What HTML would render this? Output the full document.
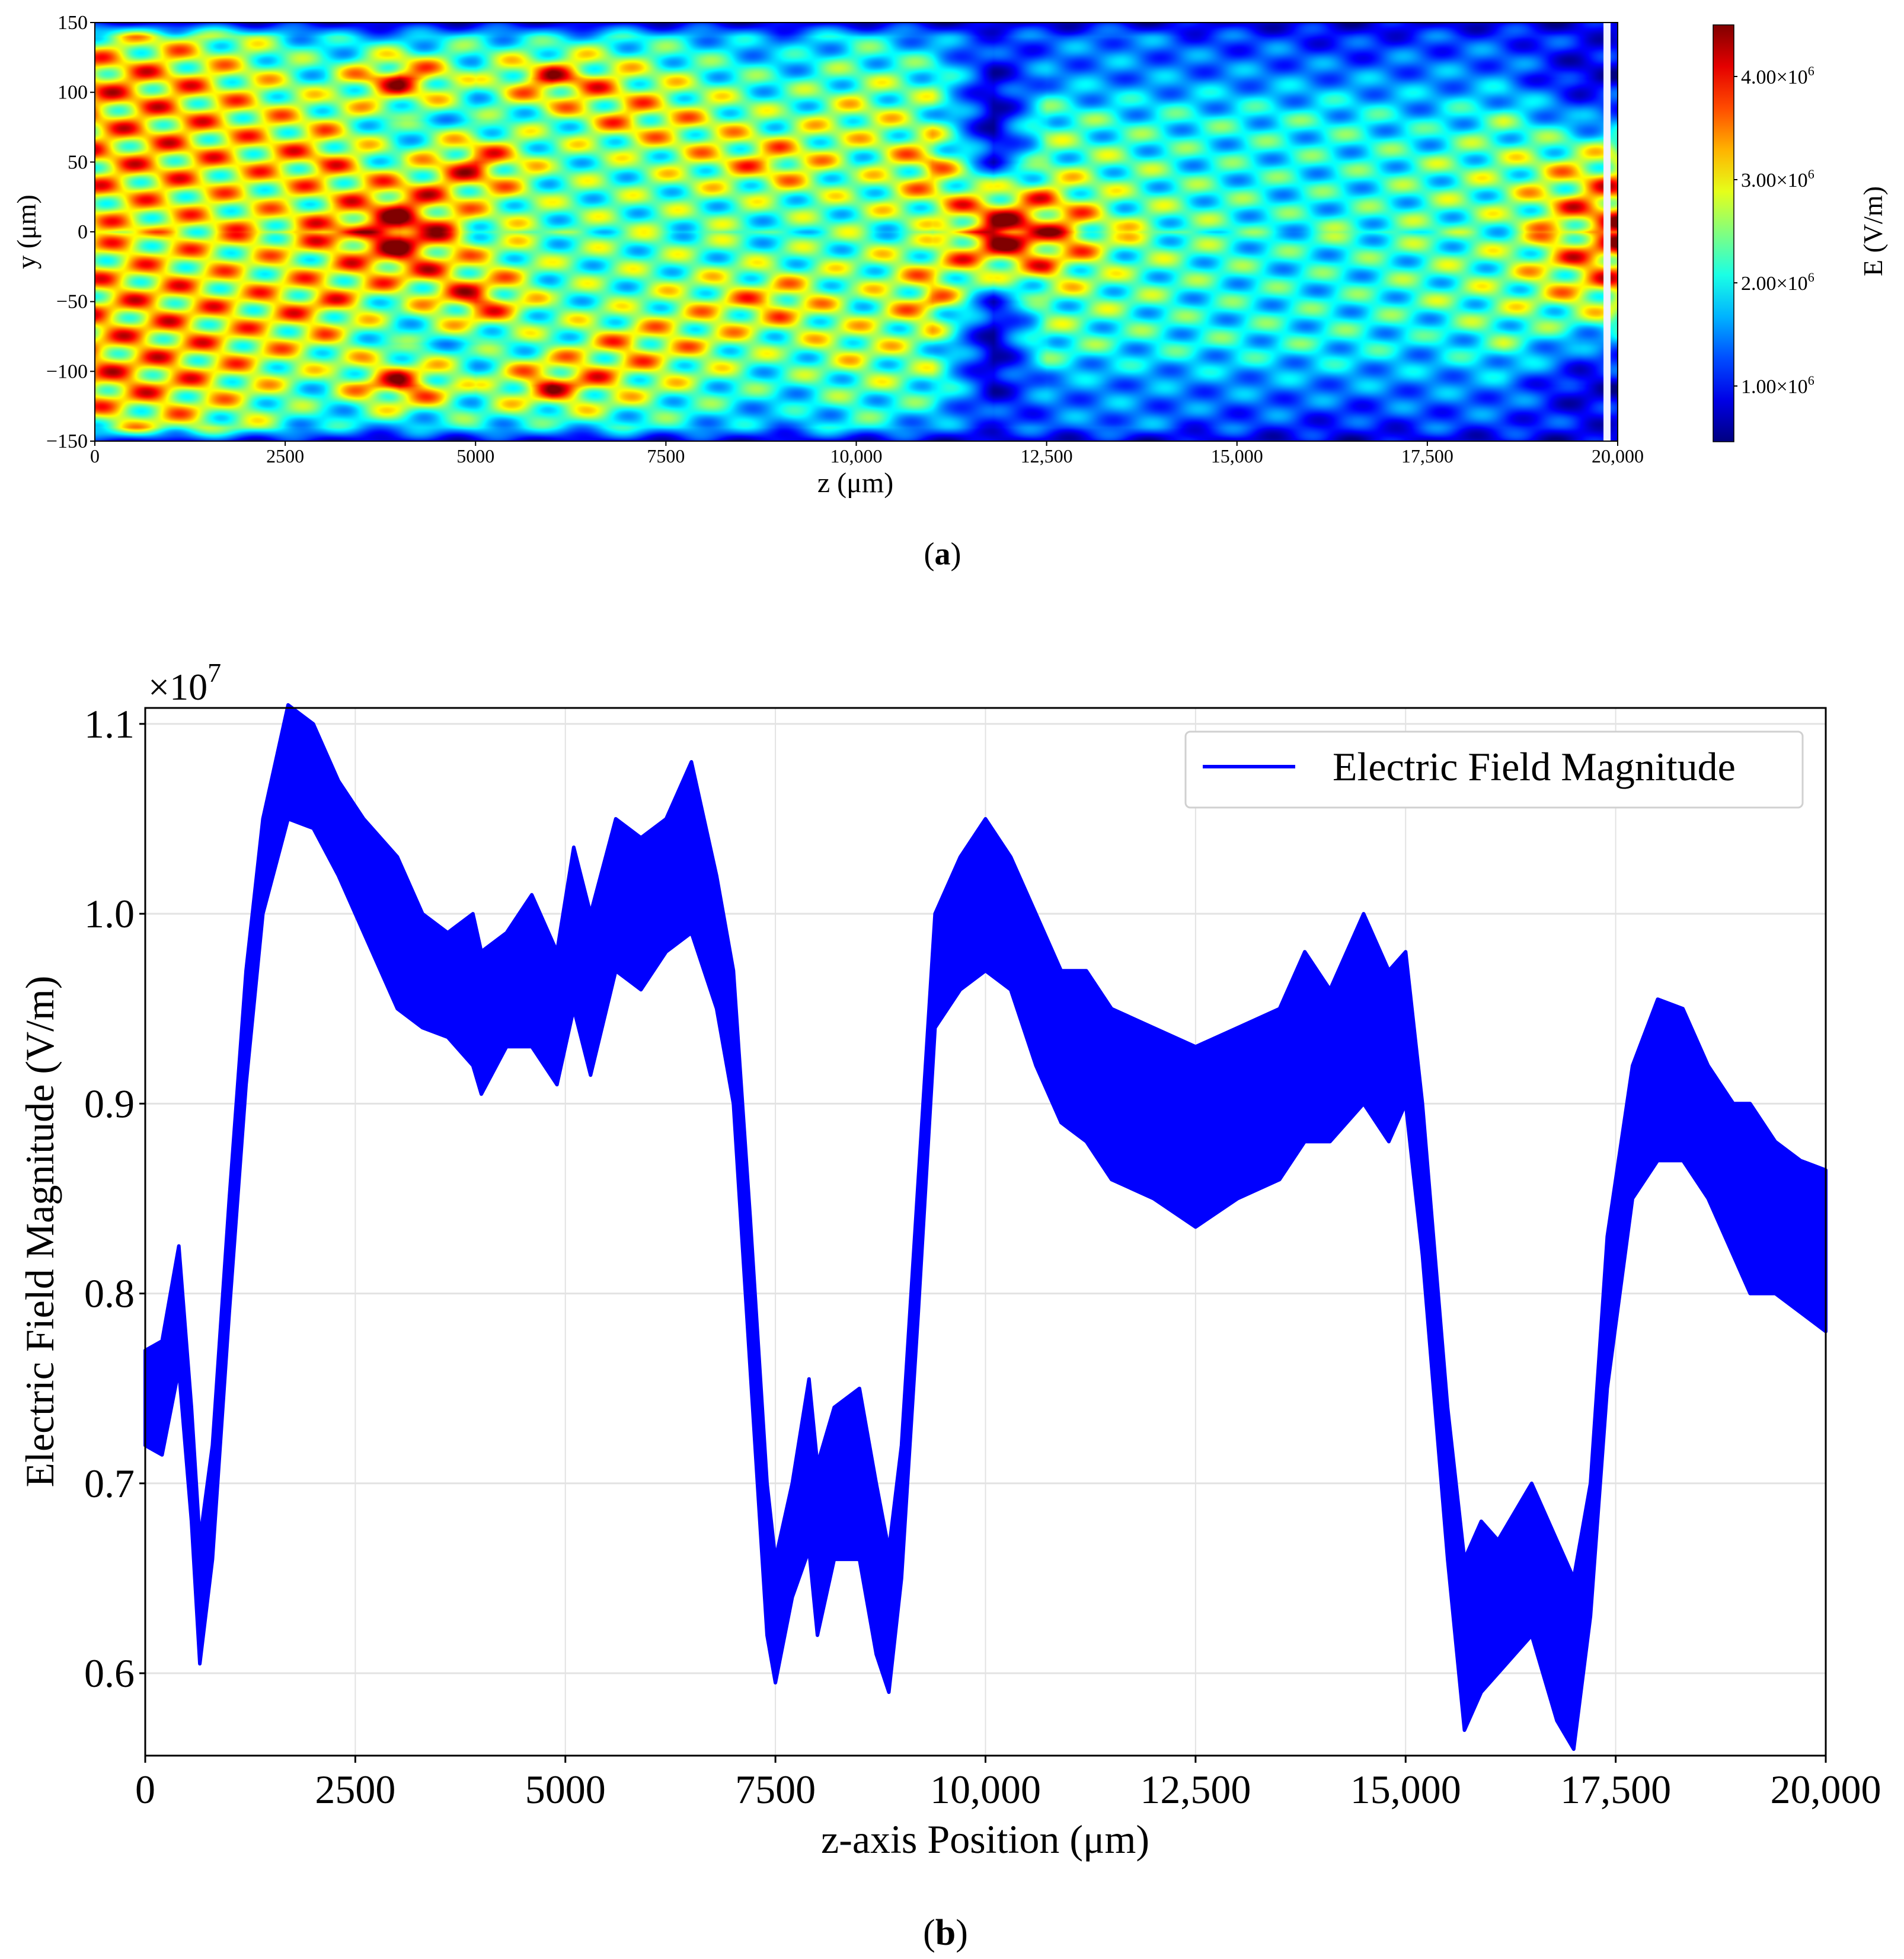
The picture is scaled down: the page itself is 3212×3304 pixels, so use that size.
<!DOCTYPE html>
<html><head><meta charset="utf-8">
<style>
html,body{margin:0;padding:0;background:#fff;}
body{width:3212px;height:3304px;position:relative;overflow:hidden;font-family:"Liberation Serif",serif;}
svg{position:absolute;left:0;top:0;}
#heat{position:absolute;left:160px;top:38px;}
</style></head>
<body>
<canvas id="heat" width="2569" height="706"></canvas>
<svg id="s" width="3212" height="3304"></svg>
<script>
// ---------- heatmap data (units 1e6 V/m) ----------
const hmZ = [0,1000,2000,3000,4000,5000,6000,7000,8000,9000,10000,11000,11800,12500,13500,14500,15500,16500,17500,18500,19500,20000];
const hmY = [150,140,110,80,50,20,0];
const hmRow150 = [0.8,0.9,0.9,0.8,0.8,0.8,0.8,0.8,0.8,0.8,0.8,0.8,0.7,0.8,0.8,0.8,0.8,0.8,0.8,0.8,0.8,0.8];
const hmRow140 = [2.6,2.8,2.4,1.8,1.6,2.0,1.8,2.0,1.8,1.5,2.0,1.5,1.2,1.3,1.5,1.2,1.2,1.0,1.2,1.2,1.0,1.0];
const hmRow110 = [3.4,3.2,2.8,2.2,4.0,2.3,3.8,2.8,2.3,2.0,2.3,2.3,0.8,1.5,1.5,1.5,1.5,1.5,1.5,1.5,0.8,0.8];
const hmRow80 = [3.2,3.2,3.0,2.8,2.0,2.0,2.3,3.2,2.8,2.3,2.8,2.3,0.6,2.3,2.0,2.0,2.0,2.0,1.8,2.2,1.5,1.5];
const hmRow50 = [3.2,3.2,3.0,3.3,2.3,3.8,2.3,2.3,2.8,3.3,2.3,3.3,1.0,2.3,2.3,2.0,2.0,2.0,2.2,2.4,2.8,3.0];
const hmRow20 = [3.0,3.0,2.8,2.8,3.8,2.8,2.3,2.3,2.3,2.3,2.4,2.8,3.4,3.3,2.3,2.2,2.0,2.0,2.2,2.4,3.3,3.6];
const hmRow0 = [3.0,3.0,3.0,3.3,4.4,2.6,2.3,2.3,2.3,2.1,2.3,2.3,4.4,3.8,2.6,2.2,2.0,2.2,2.2,2.3,3.3,3.8];
const hmRows = [hmRow150,hmRow140,hmRow110,hmRow80,hmRow50,hmRow20,hmRow0];
const cbMin = 0.46, cbMax = 4.5;
const cbTicks = [1,2,3,4];
const topXTicks = [0,2500,5000,7500,10000,12500,15000,17500,20000];
const topXLabels = ["0","2500","5000","7500","10,000","12,500","15,000","17,500","20,000"];
const topYTicks = [150,100,50,0,-50,-100,-150];
const topYLabels = ["150","100","50","0","\u221250","\u2212100","\u2212150"];

// ---------- line chart data ----------
const lineZ = [0,200,400,550,650,800,1000,1200,1400,1700,2000,2300,2600,3000,3300,3600,3900,4000,4300,4600,4900,5100,5300,5600,5900,6200,6500,6800,7000,7200,7400,7500,7700,7900,8000,8200,8500,8700,8850,9000,9200,9400,9700,10000,10300,10600,10900,11200,11500,12000,12500,13000,13500,13800,14100,14500,14800,15000,15200,15500,15700,15900,16100,16500,16800,17000,17200,17400,17700,18000,18300,18600,18900,19100,19400,19700,20000];
const lineUpper = [0.77,0.775,0.825,0.74,0.67,0.72,0.85,0.97,1.05,1.11,1.10,1.07,1.05,1.03,1.0,0.99,1.0,0.98,0.99,1.01,0.98,1.035,1.0,1.05,1.04,1.05,1.08,1.02,0.97,0.84,0.70,0.66,0.70,0.755,0.71,0.74,0.75,0.70,0.665,0.72,0.86,1.0,1.03,1.05,1.03,1.0,0.97,0.97,0.95,0.94,0.93,0.94,0.95,0.98,0.96,1.0,0.97,0.98,0.9,0.74,0.66,0.68,0.67,0.70,0.67,0.65,0.70,0.83,0.92,0.955,0.95,0.92,0.9,0.9,0.88,0.87,0.865];
const lineLower = [0.72,0.715,0.76,0.68,0.605,0.66,0.79,0.91,1.0,1.05,1.045,1.02,0.99,0.95,0.94,0.935,0.92,0.905,0.93,0.93,0.91,0.95,0.915,0.97,0.96,0.98,0.99,0.95,0.9,0.76,0.62,0.595,0.64,0.665,0.62,0.66,0.66,0.61,0.59,0.65,0.79,0.94,0.96,0.97,0.96,0.92,0.89,0.88,0.86,0.85,0.835,0.85,0.86,0.88,0.88,0.9,0.88,0.9,0.82,0.66,0.57,0.59,0.60,0.62,0.575,0.56,0.63,0.75,0.85,0.87,0.87,0.85,0.82,0.8,0.8,0.79,0.78];
const botXTicks = [0,2500,5000,7500,10000,12500,15000,17500,20000];
const botXLabels = ["0","2500","5000","7500","10,000","12,500","15,000","17,500","20,000"];
const botYTicks = [0.6,0.7,0.8,0.9,1.0,1.1];
const botYLabels = ["0.6","0.7","0.8","0.9","1.0","1.1"];

const NS="http://www.w3.org/2000/svg";
const svg=document.getElementById('s');
function mk(tag,attrs,parent){const e=document.createElementNS(NS,tag);for(const k in attrs)e.setAttribute(k,attrs[k]);(parent||svg).appendChild(e);return e;}
function txt(x,y,s,size,anchor,parent,extra){const t=mk('text',Object.assign({x:x,y:y,'font-size':size,'text-anchor':anchor||'middle','font-family':'Liberation Serif, serif',fill:'#000'},extra||{}),parent);t.textContent=s;return t;}

function jet(v){
  function c(x){return Math.max(0,Math.min(1,x));}
  const r=c(1.5-Math.abs(4*v-3)), g=c(1.5-Math.abs(4*v-2)), b=c(1.5-Math.abs(4*v-1));
  return [r*255,g*255,b*255];
}

// ---------- heatmap ----------
const T={l:160,r:2729,t:38,b:744};
const tx=z=>T.l+(z/20000)*(T.r-T.l);
const ty=y=>T.t+(150-y)/300*(T.b-T.t);
(function(){
  const cv=document.getElementById('heat');const ctx=cv.getContext('2d');
  const W=cv.width,H=cv.height;const img=ctx.createImageData(W,H);
  for(let py=0;py<H;py++){
    const ys=150-(py/H)*300;
    const yv=Math.abs(ys);
    let j=0;while(j<hmY.length-2&&yv<hmY[j+1])j++;
    const fy=(hmY[j]-yv)/(hmY[j]-hmY[j+1]);
    for(let px=0;px<W;px++){
      const zv=px/W*20000;
      let i=0;while(i<hmZ.length-2&&zv>hmZ[i+1])i++;
      const fx=(zv-hmZ[i])/(hmZ[i+1]-hmZ[i]);
      const a=hmRows[j][i]*(1-fx)+hmRows[j][i+1]*fx;
      const b=hmRows[j+1][i]*(1-fx)+hmRows[j+1][i+1]*fx;
      let v=a*(1-fy)+b*fy;
      // visual texture (interference fringes), not data
      const amp=Math.min(1.1,Math.max(0.4,(v-0.7)*0.45));
      v+=amp*Math.sin(yv/4.2 - zv/900)*Math.sin(zv/170 + yv/30);
      const t=Math.max(0,Math.min(1,(v-cbMin)/(cbMax-cbMin)));
      const col=jet(t);const k=(py*W+px)*4;
      img.data[k]=col[0];img.data[k+1]=col[1];img.data[k+2]=col[2];img.data[k+3]=255;
    }
  }
  ctx.putImageData(img,0,0);
  ctx.fillStyle='#f4f4ff';ctx.fillRect(2545,0,12,H);
})();
const gTop=mk('g',{});


mk('rect',{x:T.l,y:T.t,width:T.r-T.l,height:T.b-T.t,fill:'none',stroke:'#000','stroke-width':2},gTop);
topYTicks.forEach((v,i)=>{
  mk('line',{x1:T.l-8,x2:T.l,y1:ty(v),y2:ty(v),stroke:'#000','stroke-width':2},gTop);
  const t=txt(T.l-12,ty(v)+11,topYLabels[i],34,'end',gTop);
  
  
});
topXTicks.forEach((v,i)=>{
  mk('line',{x1:tx(v),x2:tx(v),y1:T.b,y2:T.b+8,stroke:'#000','stroke-width':2},gTop);
  const t=txt(tx(v),T.b+36,topXLabels[i],32,'middle',gTop);
  
  
});
const yt=txt(0,0,'y (\u03bcm)',46,'middle',gTop,{transform:'translate(60,391) rotate(-90)'});


const zt=txt(1443,830,'z (\u03bcm)',48,'middle',gTop);


const CB={l:2890,r:2925,t:42,b:745};
const defs=mk('defs',{});
const grad=mk('linearGradient',{id:'jetg',x1:0,y1:1,x2:0,y2:0},defs);
for(let k=0;k<=10;k++){const c=jet(k/10);mk('stop',{offset:(k*10)+'%','stop-color':'rgb('+c.map(Math.round).join(',')+')'},grad);}
const cbr=mk('rect',{x:CB.l,y:CB.t,width:CB.r-CB.l,height:CB.b-CB.t,fill:'url(#jetg)',stroke:'#000','stroke-width':1.5});


cbTicks.forEach(v=>{
  const y=CB.b-(v-cbMin)/(cbMax-cbMin)*(CB.b-CB.t);
  mk('line',{x1:CB.r,x2:CB.r+6,y1:y,y2:y,stroke:'#000','stroke-width':2});
  const t=txt(CB.r+12,y+12,v.toFixed(2)+'\u00d710',34,'start');
  const sp=mk('tspan',{dy:-14,'font-size':22},t);sp.textContent='6';
  
  
});
const ct=txt(0,0,'E (V/m)',46,'middle',null,{transform:'translate(3175,390) rotate(-90)'});


const ca=txt(1590,952,'',54,'middle');
ca.innerHTML='(<tspan font-weight="bold">a</tspan>)';



// ---------- line chart ----------
const B={l:245,r:3080,t:1194,b:2961};
const yMin=0.5566,yMax=1.1084;
const bx=z=>B.l+(z/20000)*(B.r-B.l);
const by=v=>B.b-(v-yMin)/(yMax-yMin)*(B.b-B.t);
const gB=mk('g',{});


botXTicks.forEach(v=>mk('line',{x1:bx(v),x2:bx(v),y1:B.t,y2:B.b,stroke:'#e3e3e3','stroke-width':2},gB));
botYTicks.forEach(v=>mk('line',{x1:B.l,x2:B.r,y1:by(v),y2:by(v),stroke:'#e3e3e3','stroke-width':3},gB));
let d='';
lineZ.forEach((z,i)=>{d+=(i?'L':'M')+bx(z).toFixed(1)+','+by(lineUpper[i]).toFixed(1);});
for(let i=lineZ.length-1;i>=0;i--){d+='L'+bx(lineZ[i]).toFixed(1)+','+by(lineLower[i]).toFixed(1);}
d+='Z';
const band=mk('path',{d:d,fill:'#0000ff',stroke:'#0000ff','stroke-width':6,'stroke-linejoin':'round'},gB);


mk('rect',{x:B.l,y:B.t,width:B.r-B.l,height:B.b-B.t,fill:'none',stroke:'#000','stroke-width':3},gB);
botYTicks.forEach((v,i)=>{
  mk('line',{x1:B.l-10,x2:B.l,y1:by(v),y2:by(v),stroke:'#000','stroke-width':3},gB);
  const t=txt(B.l-18,by(v)+23,botYLabels[i],68,'end',gB);
  
  
});
botXTicks.forEach((v,i)=>{
  mk('line',{x1:bx(v),x2:bx(v),y1:B.b,y2:B.b+12,stroke:'#000','stroke-width':3},gB);
  const t=txt(bx(v),B.b+80,botXLabels[i],68,'middle',gB);
  
  
});
const ex=txt(250,1180,'\u00d710',64,'start',gB);
const exs=mk('tspan',{dy:-30,'font-size':46},ex);exs.textContent='7';


const byt=txt(0,0,'Electric Field Magnitude (V/m)',68,'middle',gB,{transform:'translate(90,2077) rotate(-90)'});


const bxt=txt(1662,3125,'z-axis Position (\u03bcm)',68,'middle',gB);


const leg=mk('g',{});


mk('rect',{x:2000,y:1234,width:1041,height:128,rx:8,fill:'#fff',stroke:'#d0d0d0','stroke-width':3},leg);
mk('line',{x1:2029,x2:2185,y1:1293,y2:1293,stroke:'#0000ff','stroke-width':6},leg);
const lt=txt(2248,1316,'Electric Field Magnitude',68,'start',leg);


const cb2=txt(1595,3280,'',62,'middle');
cb2.innerHTML='(<tspan font-weight="bold">b</tspan>)';


</script>
</body></html>
